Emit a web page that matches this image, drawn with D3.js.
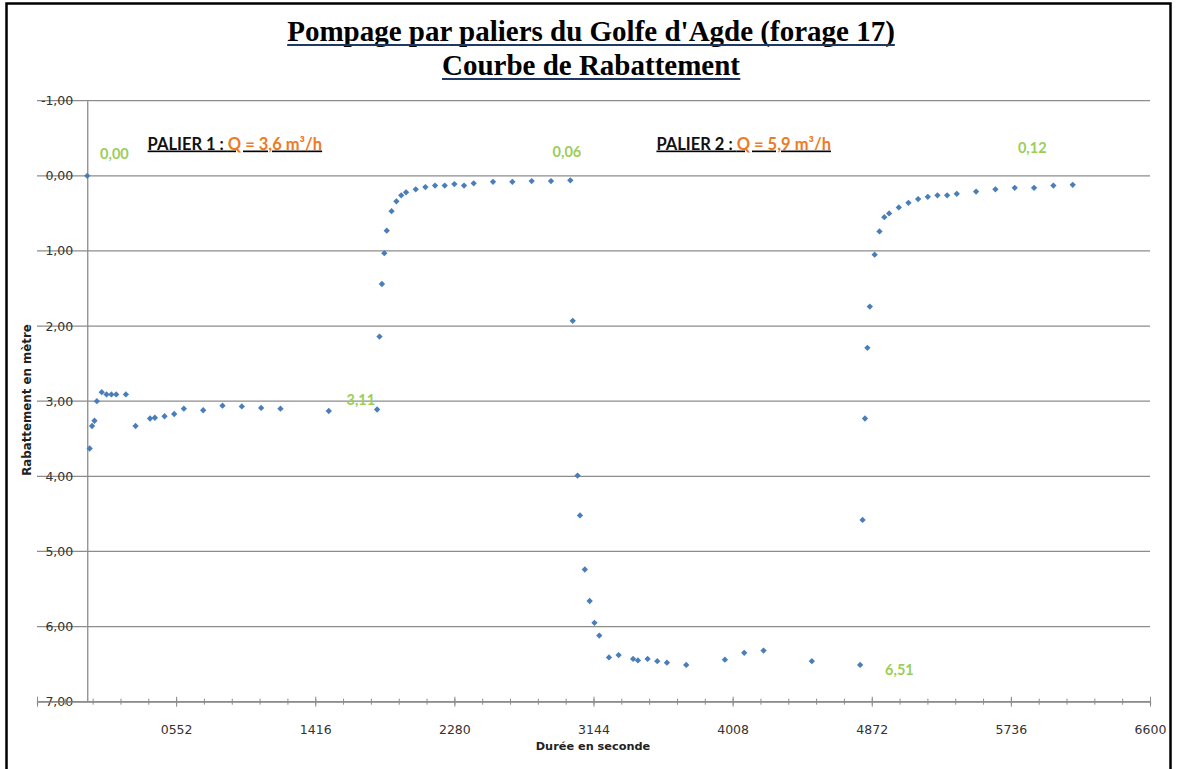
<!DOCTYPE html>
<html>
<head>
<meta charset="utf-8">
<script src="https://cdn.jsdelivr.net/npm/d3@7"></script>
<style>
  body { margin: 0; background: #fff; }
  svg { display: block; }
</style>
</head>
<body>
<div id="chart"></div>
<script>
// temps (s) et rabattement (m)
var temps = [
  0, 15, 30, 45, 60, 90, 120, 150, 180, 240, 300, 390, 420, 480, 540, 600, 720, 840, 960, 1080, 1200, 1500, 1800,
  1815, 1830, 1845, 1860, 1890, 1920, 1950, 1980, 2040, 2100, 2160, 2220, 2280, 2340, 2400, 2520, 2640, 2760, 2880, 3000,
  3015, 3045, 3060, 3090, 3120, 3150, 3180, 3240, 3300, 3390, 3420, 3480, 3540, 3600, 3720, 3960, 4080, 4200, 4500, 4800,
  4815, 4830, 4845, 4860, 4890, 4920, 4950, 4980, 5040, 5100, 5160, 5220, 5280, 5340, 5400, 5520, 5640, 5760, 5880, 6000, 6120
];
var rabattement = [
  0, 3.63, 3.33, 3.26, 3.00, 2.88, 2.91, 2.91, 2.91, 2.91, 3.33, 3.23, 3.22, 3.20, 3.17, 3.10, 3.12, 3.06, 3.07, 3.09, 3.10, 3.13, 3.11,
  2.14, 1.44, 1.03, 0.73, 0.47, 0.34, 0.26, 0.22, 0.18, 0.15, 0.13, 0.13, 0.11, 0.13, 0.10, 0.08, 0.08, 0.07, 0.07, 0.06,
  1.93, 3.99, 4.52, 5.24, 5.66, 5.95, 6.12, 6.41, 6.38, 6.43, 6.45, 6.43, 6.46, 6.48, 6.51, 6.44, 6.35, 6.32, 6.46, 6.51,
  4.58, 3.23, 2.29, 1.74, 1.05, 0.74, 0.55, 0.50, 0.42, 0.36, 0.31, 0.28, 0.26, 0.26, 0.24, 0.21, 0.18, 0.16, 0.16, 0.13, 0.12
];

var xMajor = [-312, 552, 1416, 2280, 3144, 4008, 4872, 5736, 6600];
var xMinorStep = 172.8;
var yTicks = [-1, 0, 1, 2, 3, 4, 5, 6, 7];

// étiquettes vertes : texte + point d'ancrage (t, s)
var valLabels = ['0,00', '0,06', '0,12', '3,11', '6,51'];
var valT = [80, 2890, 5780, 1610, 4955];
var valS = [-0.22, -0.25, -0.30, 3.05, 6.64];

var paliers = ['PALIER 1 : ', 'PALIER 2 : '];
var debits = ['Q = 3,6 m\u00b3/h', 'Q = 5,9 m\u00b3/h'];
var palierT = [375, 3535];
var palierS = [-0.35, -0.35];

var titre1 = "Pompage par paliers du Golfe d'Agde (forage 17)";
var titre2 = 'Courbe de Rabattement';

var W = 1177, H = 769;

var svg = d3.select('#chart').append('svg')
  .attr('width', W)
  .attr('height', H);

// cadre
svg.append('rect')
  .attr('x', 6.5).attr('y', 3.5)
  .attr('width', 1164).attr('height', 780)
  .attr('fill', 'none')
  .attr('stroke', '#000')
  .attr('stroke-width', 2.5);

var x = d3.scaleLinear().domain([-312, 6600]).range([37, 1150]);
var y = d3.scaleLinear().domain([-1, 7]).range([100.7, 701.7]);

// grille horizontale
svg.append('g').selectAll('line')
  .data(yTicks).enter()
  .append('line')
    .attr('x1', x(-312)).attr('x2', x(6600))
    .attr('y1', d => y(d)).attr('y2', d => y(d))
    .attr('stroke', '#8c8c8c')
    .attr('stroke-width', 1.3);

// axe Y (croise en t = 0)
var fmtY = d => d3.format('.2f')(d).replace('\u2212', '-').replace('.', ',');
var yAxis = svg.append('g')
  .attr('transform', 'translate(' + x(0) + ',0)')
  .call(d3.axisLeft(y).tickValues(yTicks).tickSize(0).tickPadding(14).tickFormat(fmtY));
yAxis.select('.domain').attr('stroke', '#8c8c8c').attr('stroke-width', 1.3);
yAxis.selectAll('text')
  .attr('font-family', 'DejaVu Sans, Verdana, sans-serif')
  .attr('font-size', 12.5)
  .attr('fill', '#333');

// axe X
var xMinor = d3.range(-312, 6600.1, xMinorStep);
var xAxis = svg.append('g')
  .attr('transform', 'translate(0,' + y(7) + ')')
  .call(d3.axisBottom(x).tickValues(xMinor).tickSize(3).tickFormat(''));
xAxis.select('.domain').attr('stroke', '#8c8c8c').attr('stroke-width', 1.3);
xAxis.selectAll('.tick line').attr('y1', -3).attr('stroke', '#8c8c8c');

var xAxisMaj = svg.append('g')
  .attr('transform', 'translate(0,' + y(7) + ')')
  .call(d3.axisBottom(x).tickValues(xMajor).tickSize(5).tickPadding(18)
    .tickFormat(d => d < 0 ? '' : d3.format('04d')(d)));
xAxisMaj.select('.domain').remove();
xAxisMaj.selectAll('.tick line').attr('y1', -5).attr('stroke', '#8c8c8c');
xAxisMaj.selectAll('text')
  .attr('font-family', 'DejaVu Sans, Verdana, sans-serif')
  .attr('font-size', 12.5)
  .attr('fill', '#333');

// titres d'axes
svg.append('text')
  .attr('x', 593).attr('y', 750)
  .attr('text-anchor', 'middle')
  .attr('font-family', 'DejaVu Sans, Verdana, sans-serif')
  .attr('font-weight', 'bold')
  .attr('font-size', 11.3)
  .attr('fill', '#222')
  .text('Durée en seconde');

svg.append('text')
  .attr('transform', 'translate(31,400) rotate(-90)')
  .attr('text-anchor', 'middle')
  .attr('font-family', 'DejaVu Sans, Verdana, sans-serif')
  .attr('font-weight', 'bold')
  .attr('font-size', 11.8)
  .attr('fill', '#222')
  .text('Rabattement en mètre');

// points (losanges)
var pts = temps.map((t, i) => ({ t: t, s: rabattement[i] }));
svg.append('g').selectAll('path')
  .data(pts).enter()
  .append('path')
    .attr('transform', d => 'translate(' + x(d.t) + ',' + y(d.s) + ') rotate(45)')
    .attr('d', d3.symbol().type(d3.symbolSquare).size(20))
    .attr('fill', '#4a7ebb');

// étiquettes de valeurs
svg.append('g').selectAll('text')
  .data(valLabels).enter()
  .append('text')
    .attr('x', (d, i) => x(valT[i]))
    .attr('y', (d, i) => y(valS[i]))
    .attr('font-family', 'Lato, Open Sans, sans-serif')
    .attr('font-weight', 'bold')
    .attr('font-size', 14.5)
    .attr('fill', '#9bcd5a')
    .text(d => d);

// paliers
paliers.forEach(function(p, i) {
  var t = svg.append('text')
    .attr('x', x(palierT[i]))
    .attr('y', y(palierS[i]))
    .attr('font-family', 'Lato, Open Sans, sans-serif')
    .attr('font-weight', 'bold')
    .attr('font-size', 16.5)
    .attr('text-decoration', 'underline');
  t.append('tspan').attr('fill', '#111').text(p);
  t.append('tspan').attr('fill', '#ee7a24').text(debits[i]);
});

// titre
[titre1, titre2].forEach(function(txt, i) {
  var base = 41 + i * 34;
  var t = svg.append('text')
    .attr('x', 591)
    .attr('y', base)
    .attr('text-anchor', 'middle')
    .attr('font-family', 'Liberation Serif, Times New Roman, serif')
    .attr('font-weight', 'bold')
    .attr('font-size', 29)
    .attr('fill', '#000')
    .text(txt);
  var b = t.node().getBBox();
  svg.append('line')
    .attr('x1', b.x).attr('x2', b.x + b.width)
    .attr('y1', base + 4).attr('y2', base + 4)
    .attr('stroke', '#1f3864')
    .attr('stroke-width', 2);
});
</script>
</body>
</html>
